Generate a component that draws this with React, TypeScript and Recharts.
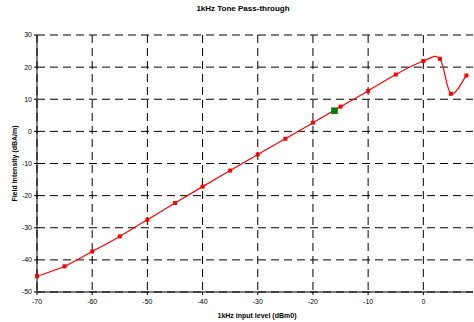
import {
  CartesianGrid,
  ComposedChart,
  Line,
  Scatter,
  XAxis,
  YAxis,
} from 'recharts'

// input level (dBm0) and measured field intensity (dBA/m)
const inputLevel = [-70, -65, -60, -55, -50, -45, -40, -35, -30, -25, -20, -15, -10, -5, 0, 3, 5, 7.8]
const fieldIntensity = [
  -45.1, -42, -37.4, -32.7, -27.5, -22.3, -17.2, -12.2, -7.2, -2.3, 2.7, 7.7, 12.6, 17.7, 21.9, 22.6,
  11.7, 17.4,
]
// single highlighted reference point
const refLevel = [-16.1]
const refIntensity = [6.4]

const xTicks = [-70, -60, -50, -40, -30, -20, -10, 0]
const yTicks = [-50, -40, -30, -20, -10, 0, 10, 20, 30]

const rows = inputLevel.map((x, i) => ({ x, y: fieldIntensity[i] }))
const refRows = refLevel.map((x, i) => ({ x, y: refIntensity[i] }))

const FONT = '"Liberation Sans", Arial, sans-serif'

/* Excel-like smoothed line: Catmull-Rom through every point */
const excelSmooth = (context: any) => {
  let pts: number[][] = []
  return {
    areaStart() {},
    areaEnd() {},
    lineStart() {
      pts = []
    },
    point(x: number, y: number) {
      pts.push([+x, +y])
    },
    lineEnd() {
      if (!pts.length) return
      context.moveTo(pts[0][0], pts[0][1])
      for (let i = 0; i < pts.length - 1; i++) {
        const p0 = pts[Math.max(i - 1, 0)]
        const p1 = pts[i]
        const p2 = pts[i + 1]
        const p3 = pts[Math.min(i + 2, pts.length - 1)]
        context.bezierCurveTo(
          p1[0] + (p2[0] - p0[0]) / 6,
          p1[1] + (p2[1] - p0[1]) / 6,
          p2[0] - (p3[0] - p1[0]) / 6,
          p2[1] - (p3[1] - p1[1]) / 6,
          p2[0],
          p2[1],
        )
      }
    },
  }
}

const RedDot = (props: any) => {
  const { cx, cy, index } = props
  if (cx == null || cy == null) return <g key={`d${index}`} />
  return <rect key={`d${index}`} x={cx - 2} y={cy - 2} width={4} height={4} fill="#ff0000" />
}

const GreenSquare = (props: any) => {
  const { cx, cy } = props
  return <rect x={cx - 3} y={cy - 3} width={6} height={6} fill="#008000" stroke="#006000" strokeWidth={0.5} />
}

export default function App() {
  return (
    <div
      style={{
        position: 'absolute',
        left: 0,
        top: 0,
        width: 474,
        height: 322,
        overflow: 'hidden',
        background: '#fff',
        fontFamily: FONT,
      }}
    >
      <div
        style={{
          position: 'absolute',
          top: 4,
          left: 0,
          width: 486,
          textAlign: 'center',
          fontSize: 8,
          fontWeight: 'bold',
          lineHeight: '10px',
        }}
      >
        1kHz Tone Pass-through
      </div>
      <ComposedChart
        width={474}
        height={322}
        data={rows}
        margin={{ top: 35, right: 1, left: 0, bottom: 0 }}
      >
        <CartesianGrid
          stroke="#000"
          strokeDasharray="8 5"
          horizontalValues={yTicks}
          verticalValues={xTicks}
        />
        <XAxis
          type="number"
          dataKey="x"
          domain={[-70, 9]}
          ticks={xTicks}
          interval={0}
          height={30}
          tickSize={3}
          tickMargin={4}
          stroke="#000"
          tick={{ fontSize: 7, fill: '#000', fontFamily: FONT }}
          label={{
            value: '1kHz input level (dBm0)',
            position: 'insideBottom',
            offset: 4,
            dx: 2,
            style: { fontSize: 7, fontWeight: 'bold', fill: '#000', fontFamily: FONT },
          }}
        />
        <YAxis
          type="number"
          domain={[-50, 30]}
          ticks={yTicks}
          interval={0}
          width={37}
          tickSize={3}
          tickMargin={2}
          stroke="#000"
          tick={{ fontSize: 7, fill: '#000', fontFamily: FONT }}
          label={{
            value: 'Field Intensity (dBA/m)',
            angle: -90,
            position: 'center',
            dx: -4,
            style: { fontSize: 7, fontWeight: 'bold', fill: '#000', fontFamily: FONT },
          }}
        />
        <Line
          dataKey="y"
          type={excelSmooth as any}
          stroke="#ff0000"
          strokeWidth={1.2}
          dot={RedDot}
          activeDot={false}
          isAnimationActive={false}
        />
        <Scatter data={refRows} dataKey="y" shape={GreenSquare} isAnimationActive={false} />
      </ComposedChart>
    </div>
  )
}
